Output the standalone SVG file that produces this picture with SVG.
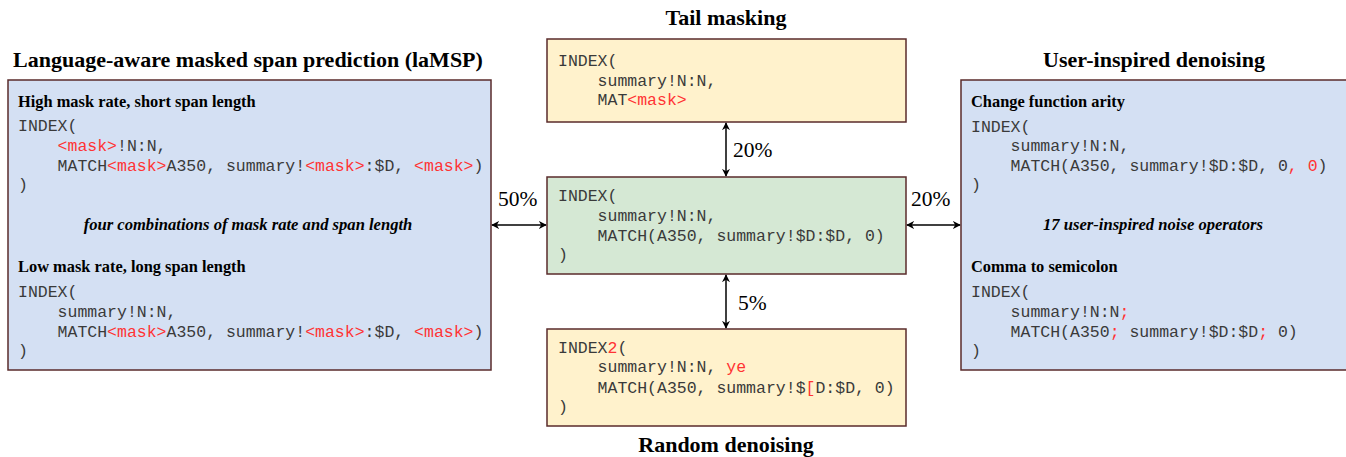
<svg xmlns="http://www.w3.org/2000/svg" width="1346" height="457" viewBox="0 0 1346 457">
<defs>
<style>
.box{stroke:#5a2b2b;stroke-width:1.5}
.blue{fill:#d4e0f3}
.yellow{fill:#fff2cc}
.green{fill:#d5e8d4}
.title{font-family:"Liberation Serif",serif;font-weight:bold;font-size:22px;fill:#000;text-anchor:middle}
.sub{font-family:"Liberation Serif",serif;font-weight:bold;font-size:16.4px;fill:#000}
.it{font-family:"Liberation Serif",serif;font-weight:bold;font-style:italic;font-size:16.6px;fill:#000;text-anchor:middle}
.code{font-family:"Liberation Mono",monospace;font-size:16.5px;fill:#3a3a3a;white-space:pre}
.r{fill:#ff3333}
.pct{font-family:"Liberation Serif",serif;font-size:21.5px;fill:#000}
.conn{stroke:#000;stroke-width:1.5;fill:none}
</style>
<marker id="ah" viewBox="0 0 10 10" refX="9" refY="5" markerWidth="8" markerHeight="8" markerUnits="userSpaceOnUse" orient="auto-start-reverse">
<path d="M0,0 L10,5 L0,10 L3,5 Z" fill="#000"/>
</marker>
</defs>

<g id="laMSP">
<text class="title" x="248" y="67">Language-aware masked span prediction (laMSP)</text>
<rect class="box blue" x="8" y="80" width="483" height="290"/>
<text class="sub" x="18" y="107">High mask rate, short span length</text>
<text class="code" x="18" y="131">INDEX(</text>
<text class="code" x="57.6" y="151"><tspan class="r">&lt;mask&gt;</tspan>!N:N,</text>
<text class="code" x="57.6" y="171">MATCH<tspan class="r">&lt;mask&gt;</tspan>A350, summary!<tspan class="r">&lt;mask&gt;</tspan>:$D, <tspan class="r">&lt;mask&gt;</tspan>)</text>
<text class="code" x="18" y="190">)</text>
<text class="it" x="248" y="230">four combinations of mask rate and span length</text>
<text class="sub" x="18" y="272">Low mask rate, long span length</text>
<text class="code" x="18" y="297">INDEX(</text>
<text class="code" x="57.6" y="317">summary!N:N,</text>
<text class="code" x="57.6" y="337">MATCH<tspan class="r">&lt;mask&gt;</tspan>A350, summary!<tspan class="r">&lt;mask&gt;</tspan>:$D, <tspan class="r">&lt;mask&gt;</tspan>)</text>
<text class="code" x="18" y="356">)</text>
</g>

<g id="tail">
<text class="title" x="726" y="25">Tail masking</text>
<rect class="box yellow" x="547" y="39" width="359" height="83"/>
<text class="code" x="558" y="66">INDEX(</text>
<text class="code" x="597.6" y="86">summary!N:N,</text>
<text class="code" x="597.6" y="105">MAT<tspan class="r">&lt;mask&gt;</tspan></text>
</g>

<g id="original">
<rect class="box green" x="547" y="177" width="359" height="97"/>
<text class="code" x="558" y="201">INDEX(</text>
<text class="code" x="597.6" y="221">summary!N:N,</text>
<text class="code" x="597.6" y="241">MATCH(A350, summary!$D:$D, 0)</text>
<text class="code" x="558" y="260">)</text>
</g>

<g id="random">
<rect class="box yellow" x="547" y="329" width="359" height="97"/>
<text class="code" x="558" y="353">INDEX<tspan class="r">2</tspan>(</text>
<text class="code" x="597.6" y="372">summary!N:N, <tspan class="r">ye</tspan></text>
<text class="code" x="597.6" y="393">MATCH(A350, summary!$<tspan class="r">[</tspan>D:$D, 0)</text>
<text class="code" x="558" y="412">)</text>
<text class="title" x="726" y="452">Random denoising</text>
</g>

<g id="user">
<text class="title" x="1154" y="67">User-inspired denoising</text>
<rect class="box blue" x="961" y="80" width="400" height="290"/>
<text class="sub" x="971" y="107">Change function arity</text>
<text class="code" x="971" y="132">INDEX(</text>
<text class="code" x="1010.6" y="151">summary!N:N,</text>
<text class="code" x="1010.6" y="171">MATCH(A350, summary!$D:$D, 0<tspan class="r">, 0</tspan>)</text>
<text class="code" x="971" y="190">)</text>
<text class="it" x="1153" y="230">17 user-inspired noise operators</text>
<text class="sub" x="971" y="272">Comma to semicolon</text>
<text class="code" x="971" y="297">INDEX(</text>
<text class="code" x="1010.6" y="317">summary!N:N<tspan class="r">;</tspan></text>
<text class="code" x="1010.6" y="337">MATCH(A350<tspan class="r">;</tspan> summary!$D:$D<tspan class="r">;</tspan> 0)</text>
<text class="code" x="971" y="356">)</text>
</g>

<g id="connectors">
<line class="conn" x1="492" y1="225" x2="546" y2="225" marker-start="url(#ah)" marker-end="url(#ah)"/>
<line class="conn" x1="907" y1="225" x2="960" y2="225" marker-start="url(#ah)" marker-end="url(#ah)"/>
<line class="conn" x1="726" y1="123" x2="726" y2="176" marker-start="url(#ah)" marker-end="url(#ah)"/>
<line class="conn" x1="726" y1="275" x2="726" y2="328" marker-start="url(#ah)" marker-end="url(#ah)"/>
<text class="pct" x="498" y="206">50%</text>
<text class="pct" x="911" y="206">20%</text>
<text class="pct" x="733" y="157">20%</text>
<text class="pct" x="738" y="310">5%</text>
</g>
</svg>
